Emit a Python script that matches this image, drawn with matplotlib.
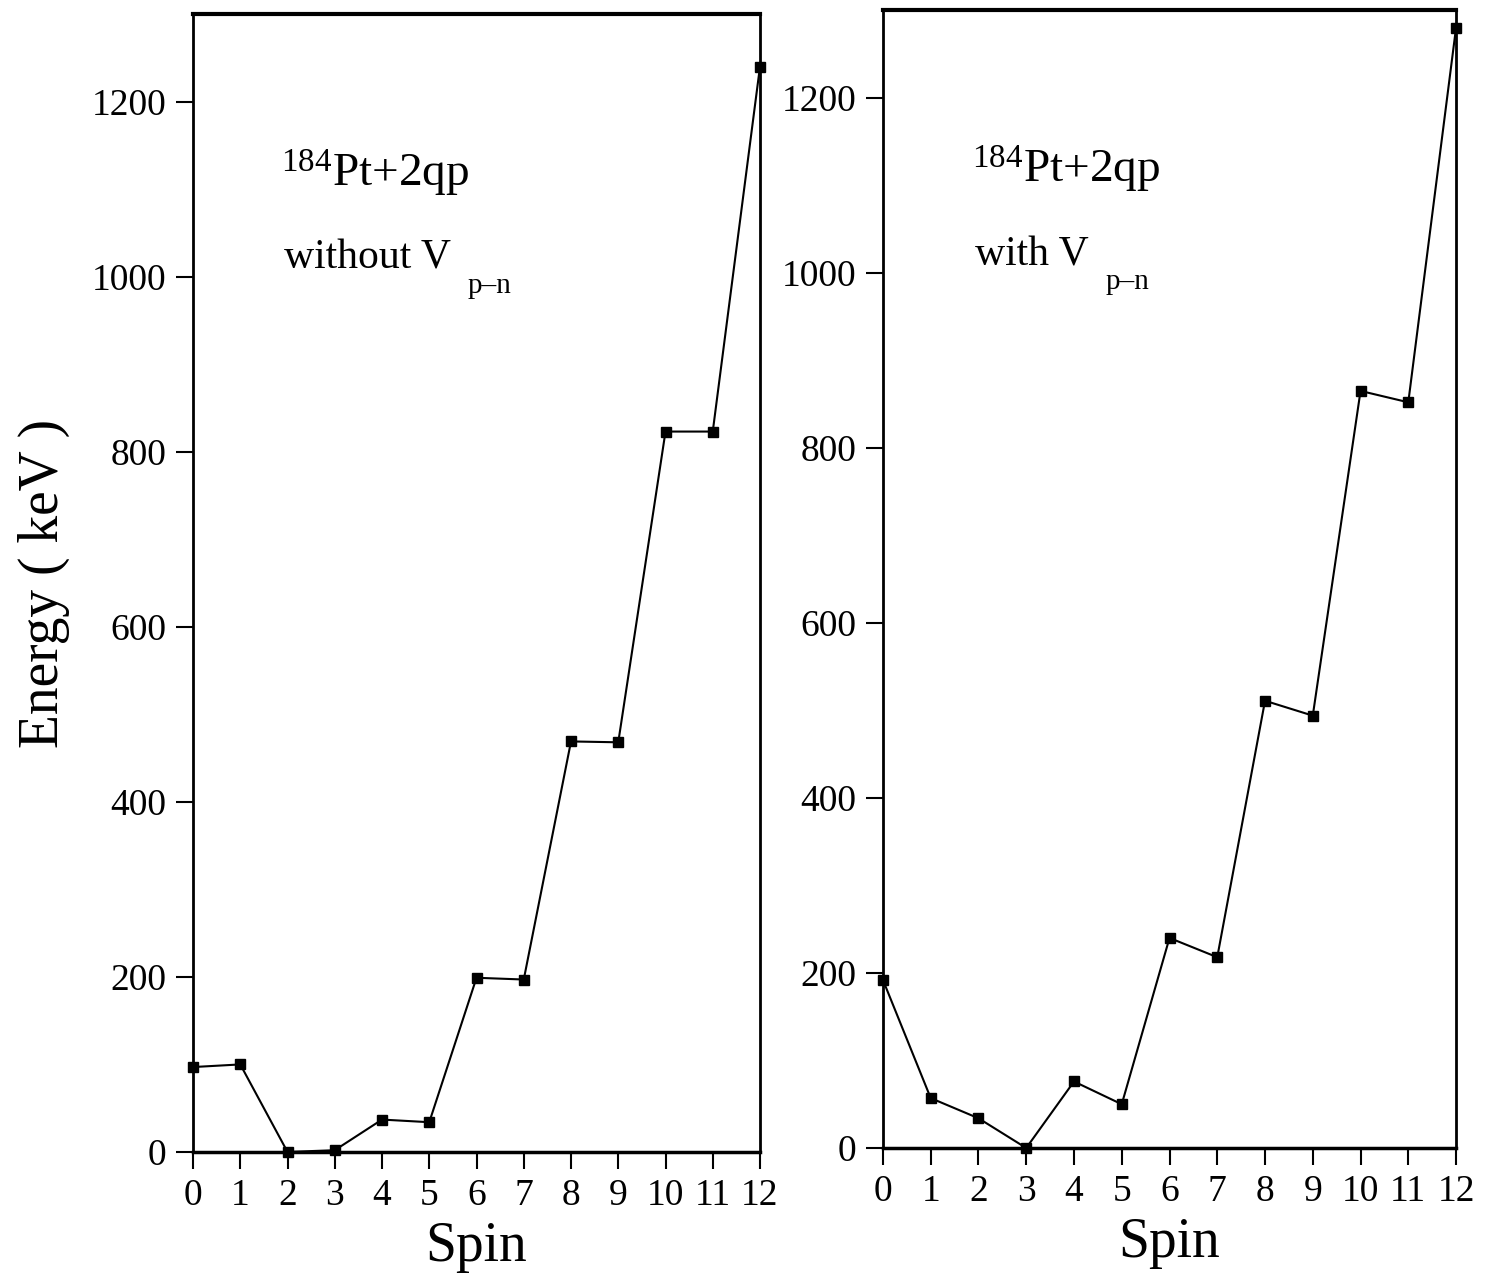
import matplotlib
matplotlib.use("Agg")
import matplotlib.pyplot as plt

plt.rcParams["font.family"] = ["Liberation Serif", "DejaVu Serif"]
plt.rcParams["mathtext.fontset"] = "custom"
plt.rcParams["mathtext.rm"] = "Liberation Serif"
plt.rcParams["mathtext.it"] = "Liberation Serif"

SPIN = list(range(13))
# energies (keV)
E_WITHOUT = [97, 100, 0, 2, 37, 34, 199, 197, 469, 468, 823, 823, 1240]
E_WITH = [192, 57, 34, 0, 76, 50, 240, 218, 511, 494, 865, 852, 1280]
YTICKS = [0, 200, 400, 600, 800, 1000, 1200]
LABELS = [r"$^{184}$Pt+2qp", r"$^{184}$Pt+2qp"]
SUBLABELS = ["without V", "with V"]
SUB = "p\u2013n"

fig = plt.figure(figsize=(14.94, 12.75), dpi=100)
ax1 = fig.add_axes([0.1292, 0.0965, 0.5087 - 0.1292, 0.989 - 0.0965])
ax2 = fig.add_axes([0.591, 0.0996, 0.9746 - 0.591, 0.992 - 0.0996])

for ax, e, lab, sub in zip((ax1, ax2), (E_WITHOUT, E_WITH), LABELS, SUBLABELS):
    ax.plot(SPIN, e, color="black", lw=1.5, marker="s", ms=6.5, clip_on=False, zorder=5)
    ax.set_xlim(0, 12)
    ax.set_ylim(0, 1300)
    ax.set_xticks(SPIN)
    ax.set_yticks(YTICKS)
    ax.tick_params(direction="out", length=12, width=1.5, labelsize=27, pad=7)
    for s in ax.spines.values():
        s.set_linewidth(2)
    ax.spines["top"].set_linewidth(3)
    ax.spines["bottom"].set_linewidth(2.5)
    ax.set_xlabel("Spin", fontsize=40, labelpad=6)
    ax.text(0.155, 0.86, lab, transform=ax.transAxes, fontsize=34, va="center")
    t = ax.text(0.16, 0.785, sub, transform=ax.transAxes, fontsize=30, va="center")
    # subscript placed just after the main text, dropped below the baseline
    fig.canvas.draw()
    bb = t.get_window_extent().transformed(ax.transAxes.inverted())
    ax.text(bb.x1 + 0.03, 0.785 - 0.024, SUB, transform=ax.transAxes,
            fontsize=21, va="center")

ax1.set_ylabel("Energy ( keV )", fontsize=40, labelpad=16)

fig.savefig("out.png", dpi=100)
